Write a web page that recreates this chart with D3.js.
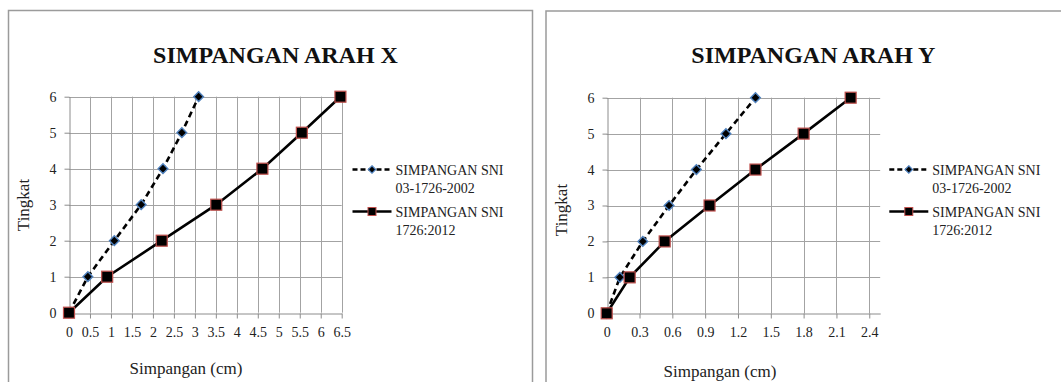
<!DOCTYPE html>
<html>
<head>
<meta charset="utf-8">
<script src="https://cdn.jsdelivr.net/npm/d3@7"></script>
<style>
  html, body { margin: 0; padding: 0; background: #fff; }
  svg { display: block; font-family: "Liberation Serif", "Times New Roman", serif; }
</style>
</head>
<body>
<script>
const width = 1061, height = 382

// data
const tingkat = [0, 1, 2, 3, 4, 5, 6]
const arahX2002 = [0, 0.45, 1.08, 1.72, 2.24, 2.69, 3.09]
const arahX2012 = [0, 0.91, 2.21, 3.51, 4.61, 5.55, 6.47]
const arahY2002 = [0, 0.12, 0.33, 0.57, 0.82, 1.09, 1.36]
const arahY2012 = [0, 0.21, 0.53, 0.94, 1.36, 1.80, 2.23]

const ticksArahX = [0, 0.5, 1, 1.5, 2, 2.5, 3, 3.5, 4, 4.5, 5, 5.5, 6, 6.5]
const ticksArahY = [0, 0.3, 0.6, 0.9, 1.2, 1.5, 1.8, 2.1, 2.4]
const ticksTingkat = [0, 1, 2, 3, 4, 5, 6]

const titles = ["SIMPANGAN ARAH X", "SIMPANGAN ARAH Y"]
const xLabel = "Simpangan (cm)"
const yLabel = "Tingkat"
const legend2002 = ["SIMPANGAN SNI", "03-1726-2002"]
const legend2012 = ["SIMPANGAN SNI", "1726:2012"]

const gridColor = "#a3a3a3"
const axisColor = "#8c8c8c"
const serif = "'Liberation Serif', 'Times New Roman', serif"

const svg = d3.select("body")
    .append("svg")
    .attr("width", width)
    .attr("height", height)
    .attr("font-family", serif)

function drawChart(opt) {
    const g = svg.append("g")

    // chart frame
    g.append("rect")
        .attr("x", opt.frame[0]).attr("y", opt.frame[1])
        .attr("width", opt.frame[2]).attr("height", opt.frame[3])
        .attr("fill", "none")
        .attr("stroke", "#9b9b9b")
        .attr("stroke-width", 1.5)

    const x = d3.scaleLinear().domain(opt.xDomain).range(opt.xRange)
    const y = d3.scaleLinear().domain([0, 6]).range([opt.yBottom, opt.yTop])

    // gridlines
    g.append("g").selectAll("line")
        .data(opt.xTicks.slice(1))
        .enter().append("line")
        .attr("x1", d => Math.round(x(d)) + 0.5).attr("x2", d => Math.round(x(d)) + 0.5)
        .attr("y1", y(6)).attr("y2", y(0))
        .attr("stroke", gridColor)
    g.append("g").selectAll("line")
        .data(ticksTingkat.slice(1))
        .enter().append("line")
        .attr("x1", x(0)).attr("x2", opt.xRange[1])
        .attr("y1", d => Math.round(y(d)) + 0.5).attr("y2", d => Math.round(y(d)) + 0.5)
        .attr("stroke", gridColor)

    const xAxis = d3.axisBottom(x)
        .tickValues(opt.xTicks)
        .tickFormat(d => String(d))
        .tickSize(5).tickSizeOuter(0).tickPadding(9)
    const yAxis = d3.axisLeft(y)
        .tickValues(ticksTingkat)
        .tickFormat(d => String(d))
        .tickSize(5).tickSizeOuter(0).tickPadding(8)

    const gx = g.append("g")
        .attr("transform", "translate(0," + (Math.round(y(0)) + 0.5) + ")")
        .call(xAxis)
    const gy = g.append("g")
        .attr("transform", "translate(" + (Math.round(x(0)) + 0.5) + ",0)")
        .call(yAxis)
    ;[gx, gy].forEach(a => {
        a.attr("font-family", serif).attr("font-size", 14)
        a.select(".domain").attr("stroke", axisColor)
        a.selectAll(".tick line").attr("stroke", axisColor)
        a.selectAll(".tick text").attr("fill", "#222")
    })
    gx.selectAll(".tick").filter(d => d === 0).select("line").remove()

    // title
    g.append("text")
        .attr("x", opt.titleX).attr("y", 63)
        .attr("text-anchor", "middle")
        .attr("font-weight", "bold")
        .attr("font-size", 24)
        .attr("fill", "#111")
        .text(opt.title)

    // axis titles
    g.append("text")
        .attr("x", opt.xLabelX).attr("y", opt.xLabelY)
        .attr("text-anchor", "middle")
        .attr("font-size", 17)
        .attr("fill", "#222")
        .text(xLabel)
    g.append("text")
        .attr("transform", "translate(" + opt.yLabelX + "," + opt.yLabelY + ") rotate(-90)")
        .attr("text-anchor", "middle")
        .attr("font-size", 17)
        .attr("fill", "#222")
        .text(yLabel)

    const line = d3.line()
        .x(d => x(d[0]))
        .y(d => y(d[1]))

    const pts2002 = opt.s2002.map((v, i) => [v, tingkat[i]])
    const pts2012 = opt.s2012.map((v, i) => [v, tingkat[i]])

    g.append("path")
        .datum(pts2002)
        .attr("d", line)
        .attr("fill", "none")
        .attr("stroke", "#000")
        .attr("stroke-width", 2.6)
        .attr("stroke-dasharray", "6,4")

    g.append("path")
        .datum(pts2012)
        .attr("d", line)
        .attr("fill", "none")
        .attr("stroke", "#000")
        .attr("stroke-width", 2.6)

    const diamond = d3.symbol().type(d3.symbolDiamond2)
    g.append("g").selectAll("path")
        .data(pts2002)
        .enter().append("path")
        .attr("transform", d => "translate(" + x(d[0]) + "," + y(d[1]) + ")")
        .attr("d", diamond.size(60))
        .attr("fill", "#000")
        .attr("stroke", "#4f81bd")
        .attr("stroke-width", 1.4)

    g.append("g").selectAll("rect")
        .data(pts2012)
        .enter().append("rect")
        .attr("x", d => x(d[0]) - 5.5).attr("y", d => y(d[1]) - 5.5)
        .attr("width", 11).attr("height", 11)
        .attr("fill", "#000")
        .attr("stroke", "#c0504d")
        .attr("stroke-width", 1.2)

    // legend
    const lg = g.append("g").attr("transform", "translate(" + opt.legendX + ",0)")
    const items = [
        {y: 169.5, lines: legend2002, dashed: true},
        {y: 211.5, lines: legend2012, dashed: false}
    ]
    items.forEach(it => {
        lg.append("line")
            .attr("x1", 0).attr("x2", 39)
            .attr("y1", it.y).attr("y2", it.y)
            .attr("stroke", "#000")
            .attr("stroke-width", 2.4)
            .attr("stroke-dasharray", it.dashed ? "5,3" : null)
        if (it.dashed) {
            lg.append("path")
                .attr("transform", "translate(19.5," + it.y + ")")
                .attr("d", diamond.size(36))
                .attr("fill", "#000")
                .attr("stroke", "#4f81bd")
                .attr("stroke-width", 1.2)
        } else {
            lg.append("rect")
                .attr("x", 15.5).attr("y", it.y - 4)
                .attr("width", 8).attr("height", 8)
                .attr("fill", "#000")
                .attr("stroke", "#c0504d")
                .attr("stroke-width", 1)
        }
        const t = lg.append("text")
            .attr("font-size", 14)
            .attr("fill", "#222")
        it.lines.forEach((s, i) => {
            t.append("tspan")
                .attr("x", 43)
                .attr("y", it.y + 5 + i * 18.5)
                .text(s)
        })
    })
}

drawChart({
    frame: [8.5, 10.5, 524, 420],
    xDomain: [0, 6.5], xRange: [69, 341.7], xTicks: ticksArahX,
    yTop: 96.7, yBottom: 312.7,
    title: titles[0], titleX: 275.5,
    xLabelX: 186, xLabelY: 373.5,
    yLabelX: 29, yLabelY: 205,
    s2002: arahX2002, s2012: arahX2012,
    legendX: 352.5
})

drawChart({
    frame: [546, 11, 560, 420],
    xDomain: [0, 2.5], xRange: [606.7, 880.2], xTicks: ticksArahY,
    yTop: 97.7, yBottom: 313.3,
    title: titles[1], titleX: 813.3,
    xLabelX: 720, xLabelY: 377,
    yLabelX: 567, yLabelY: 210,
    s2002: arahY2002, s2012: arahY2012,
    legendX: 889.3
})
</script>
</body>
</html>
